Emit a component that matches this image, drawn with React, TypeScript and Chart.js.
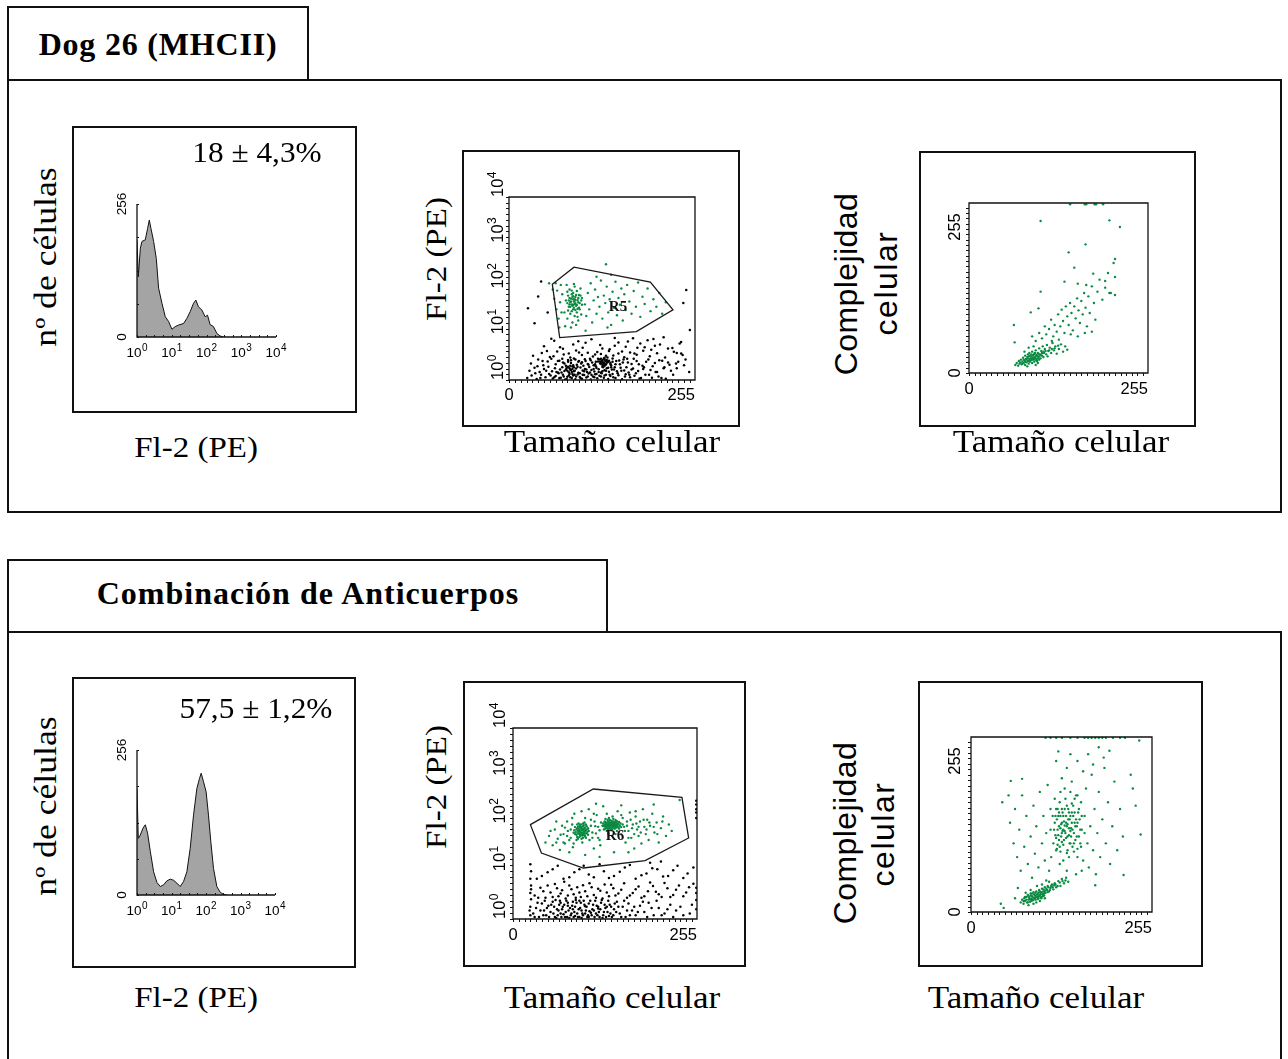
import React, { useEffect, useRef } from 'react';
import { Chart, registerables } from 'chart.js';

Chart.register(...registerables);

// ---------------- data ----------------
// Histogram "Dog 26 (MHCII)": Fl-2 (PE) value vs. nº de células
const histDogFl2 = [1, 1.09, 1.25, 1.39, 1.73, 2.02, 2.26, 2.52, 3.01, 3.59, 4.19, 5.22, 6.51, 8.11, 10.1, 12.6, 15.7, 21.9, 27.3, 34.0, 42.4, 49.4, 58.9, 73.5, 91.6, 107, 127, 159, 198, 247, 307];
const histDogCount = [187, 116, 171, 184, 187, 209, 225, 209, 184, 151, 94, 65, 39, 30, 15, 20, 23, 26, 36, 49, 65, 71, 58, 52, 39, 42, 24, 20, 7, 2, 0];

// Histogram "Combinación de Anticuerpos"
const histComboFl2 = [1, 1.09, 1.25, 1.49, 1.74, 2.03, 2.43, 3.03, 3.79, 4.73, 5.9, 7.37, 9.2, 11.5, 14.3, 17.9, 22.4, 27.9, 34.8, 43.5, 54.3, 64.9, 72.5, 84.7, 101, 118, 138, 165, 206, 257, 321, 400];
const histComboCount = [188, 100, 106, 118, 124, 109, 77, 41, 22, 15, 18, 25, 28, 26, 21, 15, 24, 41, 82, 141, 188, 206, 215, 200, 182, 141, 94, 47, 15, 5, 1, 0];

// Scatter Dog 26: Tamaño celular (0-255) vs Fl-2 (log)
const dogGateBlack = [
  [25,1.1],[31,1.25],[38,1.05],[44,1.3],[50,1.15],[55,1.35],[60,1.08],[64,1.22],[68,1.4],[71,1.12],[74,1.3],[77,1.02],[80,1.18],[83,1.36],[86,1.1],[88,1.26],[91,1.04],[94,1.32],[97,1.16],[100,1.06],[103,1.28],[106,1.14],[109,1.38],[112,1.02],[115,1.2],[118,1.34],[121,1.09],[124,1.24],[127,1.4],[130,1.12],[133,1.3],[136,1.05],[139,1.22],[142,1.36],[146,1.1],[150,1.27],[155,1.04],[160,1.33],[166,1.15],[172,1.24],[179,1.08],[187,1.3],[196,1.12],[205,1.2],[215,1.06],
  [28,1.6],[35,1.85],[42,1.5],[48,1.75],[54,1.95],[59,1.55],[63,1.8],[67,1.45],[70,1.7],[73,1.9],[76,1.58],[79,1.82],[82,1.48],[84,1.68],[87,1.98],[90,1.6],[92,1.78],[95,1.44],[98,1.88],[101,1.62],[104,1.74],[107,1.5],[110,1.92],[113,1.66],[117,1.54],[120,1.84],[123,1.72],[126,1.46],[128,1.96],[131,1.64],[134,1.8],[137,1.52],[140,1.9],[144,1.7],[148,1.56],[153,1.86],[158,1.62],[164,1.45],[170,1.78],[177,1.58],[185,1.9],[194,1.66],[203,1.5],[212,1.8],[222,1.6],
  [30,2.3],[40,2.8],[47,2.1],[53,2.55],[58,2.9],[64,2.2],[69,2.65],[74,2.4],[78,2.05],[81,2.75],[85,2.35],[89,2.95],[93,2.15],[96,2.6],[100,2.45],[104,2.85],[108,2.25],[112,2.7],[116,2.1],[119,2.5],[122,2.9],[125,2.3],[127,2.62],[129,2.42],[131,2.8],[133,2.18],[136,2.55],[139,2.38],[142,2.95],[146,2.2],[151,2.68],[156,2.4],[162,2.9],[168,2.25],[175,2.6],[183,2.05],[191,2.8],[200,2.35],[210,2.65],[220,2.15],[232,2.5],
  [33,3.4],[45,3.9],[56,3.2],[66,4.2],[75,3.6],[84,3.1],[92,4.4],[100,3.5],[108,3.95],[115,3.25],[121,4.1],[126,3.7],[131,3.05],[137,4.3],[143,3.45],[150,3.8],[158,3.15],[166,4.0],[175,3.55],[184,4.35],[193,3.3],[203,3.85],[214,3.1],[226,4.15],[238,3.5],
  [48,5.5],[62,7.2],[74,4.8],[88,6.0],[101,5.1],[113,7.8],[125,5.8],[138,4.7],[150,6.6],[160,5.3],[170,8.2],[180,6.3],[190,7.4],[200,5.6],[212,8.6],[224,5.0],[236,6.8],
  [125,2.5],[128,2.7],[130,2.35],[132,2.6],[127,2.2],[134,2.75],[129,1.9],[131,2.05],[126,2.9],[135,2.45],[83,1.8],[85,1.65],[81,1.95],[87,1.75],[84,2.05],[80,1.6],[86,1.5],[89,1.9],[118,2.2],[140,2.1],
  [62,1.15],[65,1.5],[67,2.6],[69,1.1],[72,1.45],[73,2.9],[75,1.2],[76,2.3],[78,1.7],[79,1.05],[81,2.5],[82,1.25],[84,1.15],[85,2.7],[87,1.35],[88,2.1],[89,1.55],[90,1.3],[91,2.8],[92,1.2],[94,1.95],[95,2.5],[97,1.4],[98,1.1],[99,2.3],[101,1.3],[102,2.05],[103,1.55],[105,2.6],[106,1.7],[108,1.2],[109,2.15],[111,1.45],[111,2.9],[113,1.3],[114,2.4],[116,1.75],[117,1.15],[119,2.0],[120,1.35],[122,2.55],[123,1.5],[124,2.8],[126,1.2],[127,2.45],[128,1.55],[129,2.1],[130,2.95],[131,1.25],[132,2.2],[133,1.6],[134,2.4],[135,3.1],[136,1.85],[137,2.65],[138,1.3],[139,2.25],[141,1.7],[142,2.5],[143,1.15],[145,1.9],[147,2.6],[149,1.4],[152,2.2],[154,1.6],[157,2.8],[159,1.2],[161,1.9],[163,2.4],[165,1.3],[168,1.7],[171,2.9],[174,1.4],[178,2.2],[181,1.1],[184,1.75],[188,2.5],[192,1.3],[197,2.0],[201,1.5],[206,2.7],[209,1.1],[213,1.9],[218,2.4],[225,1.3],[230,1.8],[240,2.1],[36,1.4],[39,2.0],[43,1.1],[46,2.6],[51,1.6],[57,1.25],[61,3.3],
  [52,4.3],[70,5.2],[82,3.8],[96,4.0],[105,6.5],[118,3.6],[128,4.9],[133,3.4],[145,5.6],[155,4.2],[163,6.9],[172,3.8],[186,5.2],[195,4.6],[207,6.0],[218,4.9],[230,3.9],[242,2.8],[58,8.0],[95,7.0],[145,8.3],[176,5.1],[198,7.9],
  [44,142],[40,67],[26,37],[35,17.4],[53,30],[243,93],[239,48],[248,12.4],[234,6.3],[236,3.8],[229,2.3],[247,1.5]
];
const dogGateGreen = [
  [76,30],[78,55],[80,22],[81,70],[82,40],[83,95],[84,28],[85,60],[86,45],[87,18],[88,80],[88,35],[89,52],[90,110],[90,25],[91,65],[92,42],[93,30],[93,88],[94,56],[95,20],[96,72],[96,38],[97,48],[98,100],[99,27],[100,62],[100,44],[79,120],[77,15],[85,14],[89,125],[92,16],[86,75],[84,50],[91,34],[83,62],[87,42],[95,50],[81,33],[80,85],[94,24],[98,70],[88,58],[90,46],
  [84,40],[85,52],[86,32],[87,65],[88,44],[89,38],[90,58],[91,48],[92,72],[93,44],[94,36],[95,62],[86,90],[82,55],[97,35],[99,55],[83,45],[80,48],[91,55],[88,68],
  [62,60],[65,35],[66,90],[68,22],[70,50],[71,120],[72,30],[73,75],[69,14],[64,130],
  [104,45],[106,25],[108,80],[110,35],[112,130],[114,18],[116,55],[118,95],[120,28],[122,65],[124,40],[126,150],[128,22],[130,70],[132,48],[134,110],[136,30],[138,58],[140,16],[142,85],[144,38],[146,140],[148,26],[150,62],[152,44],[154,100],[156,20],[158,75],[160,34],[162,120],[165,52],[168,28],[171,88],[174,40],[177,135],[180,24],[183,66],[186,46],[190,100],[194,32],[198,58],[202,40],[206,80],[210,28],[215,50],[120,180],[140,200],[105,12],[135,14],
  [133,340],[55,130],[60,95]
];
const dogGateX = [59.4, 89.1, 193.8, 224.8, 174.6, 69.5];
const dogGateY = [124, 293, 138, 34.1, 11.4, 8.45];
const dogGateLabel = 'R5';
const dogGateLabelAt = [149.4, 39];

// Scatter Dog 26: Tamaño celular vs Complejidad celular
const dogComplexGreen = [
  [66,12],[68,15],[70,11],[71,18],[72,14],[74,20],[75,13],[76,17],[77,23],[78,15],[79,19],[80,26],[80,12],[81,21],[82,16],[83,24],[84,18],[84,28],[85,14],[86,21],[86,30],[87,17],[88,25],[88,19],[89,22],[90,32],[90,15],[91,26],[92,20],[93,29],[93,17],[94,23],[95,34],[96,21],[96,27],[97,18],[98,30],[99,24],[100,37],[100,20],[101,28],[102,22],[103,33],[104,26],[105,40],[106,24],[107,30],[108,36],[110,28],[111,42],[112,25],[113,33],[115,38],[117,30],[119,45],[121,34],[123,40],[125,29],[128,36],[131,43],[134,32],[137,40],[140,35],[85,38],[79,32],[92,40],[83,10],[95,12],[98,15],
  [82,20],[84,22],[85,25],[86,18],[87,26],[88,22],[89,28],[90,20],[91,23],[92,27],[93,21],[94,30],[95,25],[96,19],[97,26],[98,22],[99,29],[100,25],[102,27],[104,30],[78,20],[80,17],[76,14],[73,16],[106,32],[109,33],[114,34],[118,36],[122,37],[127,41],
  [90,55],[95,48],[100,60],[104,52],[108,70],[110,58],[114,66],[117,80],[120,55],[122,72],[125,62],[127,88],[130,70],[132,95],[134,78],[136,60],[138,100],[140,85],[142,72],[144,105],[146,90],[148,64],[150,100],[152,82],[154,112],[156,94],[158,75],[160,108],[162,88],[164,120],[166,98],[168,70],[170,115],[172,90],[175,130],[178,105],[180,80],[183,122],[186,140],[190,110],[194,128],[198,150],[202,120],[206,165],[145,58],[155,55],[165,60],[175,62],[128,50],[118,48],
  [144,253],[165,253],[167,253],[179,253],[181,253],[191,253],[102,228],[200,229],[215,219],[166,193],[142,181],[150,158],[177,149],[208,171],[208,144],[194,138],[155,134],[167,132],[102,122],[136,137],[208,117],[200,120],[64,72],[65,46],[88,91],[99,97]
];

// Scatter Combinación: Tamaño celular vs Fl-2 (log)
const comboGateBlack = [
  [24,1.2],[24,1.8],[25,2.6],[24,3.5],[25,5],[24,7],[25,10],[24,14],[23,1.5],[25,4.2],
  [28,1.3],[32,1.7],[36,1.1],[40,2.1],[43,1.5],[46,1.2],[49,1.9],[52,1.4],[55,2.3],[58,1.1],[61,1.6],[64,2.0],[66,1.3],[69,1.8],[72,1.1],[74,2.4],[77,1.5],[80,1.2],[82,1.9],[85,1.4],[88,2.2],[90,1.1],[93,1.7],[96,1.3],[99,2.0],[101,1.5],[104,1.2],[107,2.4],[110,1.6],[113,1.1],[116,1.9],[119,1.4],[122,2.2],[125,1.2],[128,1.7],[131,1.4],[134,2.0],[137,1.1],[140,1.6],[144,2.3],[148,1.3],[152,1.8],[156,1.1],[160,2.1],[165,1.5],[170,1.2],[176,1.9],[182,1.4],[188,2.2],[195,1.2],[202,1.7],[210,1.3],[218,2.0],[226,1.5],[236,1.2],
  [60,1.05],[70,1.25],[78,1.05],[86,1.15],[95,1.05],[105,1.1],[115,1.3],[124,1.05],[133,1.15],[92,2.4],[83,1.6],[76,1.9],[66,2.2],[108,1.35],[118,1.65],[100,1.85],
  [30,1.1],[34,2.2],[38,1.5],[42,1.2],[44,2.4],[47,1.7],[50,1.1],[53,2.0],[56,1.3],[57,1.8],[59,2.5],[62,1.2],[63,1.5],[65,2.4],[67,1.1],[68,1.6],[71,2.0],[73,1.4],[75,1.1],[76,2.2],[79,1.7],[81,1.3],[83,2.3],[84,1.1],[86,1.8],[87,2.5],[89,1.3],[91,1.6],[92,1.1],[94,2.2],[95,1.5],[97,1.2],[98,2.4],[100,1.3],[102,1.8],[103,1.1],[105,2.1],[106,1.45],[109,1.2],[111,2.0],[112,1.5],[114,2.4],[117,1.2],[118,1.8],[120,1.1],[121,1.6],[123,2.5],[126,1.4],[127,2.0],[129,1.1],[130,1.8],[132,2.4],[135,1.3],[136,1.8],[139,1.2],[141,2.1],[143,1.4],[146,1.8],[150,1.1],[154,2.4],[158,1.5],[162,1.2],[168,1.8],[173,1.4],[180,2.3],[186,1.1],[192,1.7],[199,2.4],[206,1.2],[214,1.6],[222,1.1],[232,1.8],
  [30,3.1],[38,4.5],[45,2.8],[52,3.6],[58,5.4],[63,3.0],[68,4.0],[73,2.7],[78,5.0],[84,3.3],[89,4.6],[94,2.9],[100,3.8],[106,5.6],[112,3.2],[118,4.3],[124,2.7],[130,3.6],[136,5.2],[142,3.1],[150,4.1],[158,2.8],[166,3.5],[174,4.8],[182,3.0],[190,5.8],[198,3.7],[206,2.9],[214,4.4],[222,3.2],[230,5.0],[240,3.6],
  [35,2.8],[42,3.8],[48,5.0],[55,2.9],[61,4.4],[66,3.4],[71,6.0],[76,3.1],[81,4.2],[87,2.8],[92,3.6],[97,5.1],[103,3.0],[109,4.6],[115,2.8],[121,3.9],[127,5.3],[133,3.0],[139,4.4],[146,3.4],[154,5.6],[162,3.1],[170,4.2],[178,2.8],[187,3.8],[194,4.9],[202,3.3],[210,5.7],[218,2.9],[226,4.1],[236,3.0],[244,4.6],
  [40,8],[55,11],[70,7],[85,9.5],[98,13],[112,7.5],[126,10],[140,8],[155,12],[170,7],[185,9],[200,11],[215,8],[228,13],[242,9],[190,15],[205,16],
  [33,7],[48,9.5],[62,13],[78,7.5],[92,11],[105,8.5],[120,14],[133,7.2],[148,9.8],[162,13.5],[178,8.2],[193,11.5],[208,7.8],[222,10.5],[236,7.2],[250,12],
  [254,130],[254,170],[254,200],[254,250],[254,300],[254,2.5],[254,3.5],[254,4.5],[254,1.6],[250,5.5],[245,1.3],[248,2.0]
];
const comboGateGreen = [
  [86,60],[88,75],[89,52],[90,85],[91,64],[92,70],[93,55],[93,92],[94,78],[95,62],[95,48],[96,72],[97,58],[97,88],[98,66],[99,80],[100,54],[100,70],[101,95],[102,62],[88,45],[91,100],[96,40],[99,105],[85,72],[103,76],[94,66],[92,60],[98,74],[90,70],
  [87,66],[88,58],[89,80],[90,62],[90,48],[91,76],[92,88],[92,52],[93,68],[93,82],[94,58],[94,96],[95,74],[95,84],[96,56],[96,64],[97,78],[97,50],[98,60],[98,92],[99,68],[99,56],[100,82],[100,62],[101,72],[101,50],[102,88],[103,66],[104,58],[104,80],[86,84],[84,64],[105,70],[89,95],[97,100],
  [124,90],[126,75],[127,110],[128,85],[129,100],[130,70],[131,120],[132,92],[133,80],[134,105],[135,88],[136,72],[136,115],[137,98],[138,84],[139,125],[140,94],[141,78],[142,108],[143,90],[144,70],[145,100],[146,82],[132,62],[138,140],[128,125],[142,60],[134,96],[130,88],[137,110],
  [125,100],[126,88],[127,95],[128,78],[128,108],[129,92],[130,104],[130,80],[131,96],[131,86],[132,110],[132,76],[133,100],[133,90],[134,84],[134,118],[135,96],[135,78],[136,102],[136,86],[137,92],[137,76],[138,104],[138,96],[139,88],[139,110],[140,80],[140,104],[141,98],[141,88],[142,94],[142,118],[143,82],[143,104],[144,92],[144,112],[145,86],[146,96],[147,78],[147,108],[148,90],[149,100],[150,84],[127,88],[133,130],
  [45,40],[50,55],[55,35],[58,75],[62,48],[65,28],[68,90],[70,60],[72,38],[75,110],[76,70],[78,25],[80,50],[82,130],[83,32],[106,45],[108,120],[110,65],[112,30],[114,88],[116,150],[118,50],[120,72],[121,35],[150,60],[152,130],[154,85],[156,40],[158,110],[160,70],[162,170],[164,50],[166,95],[168,30],[170,140],[172,75],[174,55],[176,110],[178,38],[180,200],[182,85],[184,60],[186,120],[188,45],[190,90],[193,160],[196,65],[199,105],[202,40],[205,80],[208,140],[212,55],[216,95],[220,70],[105,200],[125,230],[145,180],[120,20],[140,25],[100,22],[160,25],[60,110],[85,160],[95,180],[150,240],[195,250],[115,260],
  [52,70],[60,40],[66,58],[72,82],[78,45],[82,95],[84,38],[108,90],[110,50],[113,110],[115,62],[118,85],[120,45],[122,105],[152,95],[155,70],[158,90],[160,50],[163,120],[165,80],[168,60],[171,100],[174,85],[177,65],[181,120],[185,75],[189,105],[195,85],[200,60],[207,110],[112,160],[130,160],[150,150],[170,180],[100,130],[80,75],[75,55],[70,40],
  [231,310]
];
const comboGateX = [24.1, 111.3, 234.1, 243.4, 183.1, 97.4, 39.4];
const comboGateY = [94.6, 528, 353, 49.7, 16.7, 11.7, 24.1];
const comboGateLabel = 'R6';
const comboGateLabelAt = [141.4, 55.6];

// Scatter Combinación: Tamaño celular vs Complejidad celular
const comboComplexGreen = [
  [70,14],[72,18],[74,12],[75,20],[76,16],[78,22],[79,14],[80,25],[81,18],[82,21],[83,15],[84,27],[85,19],[86,23],[87,17],[88,29],[89,21],[90,24],[91,18],[92,30],[93,22],[94,26],[95,20],[96,32],[97,24],[98,28],[99,22],[100,34],[101,26],[102,30],[103,24],[104,36],[105,28],[107,32],[108,38],[110,30],[112,35],[114,40],[116,33],[118,42],[120,36],[123,45],[126,38],[128,48],[131,42],[134,50],[137,44],[77,28],[84,32],[92,14],[88,12],[97,16],[104,20],[81,10],[110,44],[62,20],[66,35],[93,38],[100,40],[106,46],
  [74,16],[76,22],[78,18],[80,14],[81,23],[83,19],[84,24],[85,16],[86,27],[87,21],[88,18],[89,26],[90,20],[91,28],[92,22],[93,25],[94,19],[95,28],[96,23],[97,30],[98,26],[99,20],[100,29],[101,23],[102,33],[103,27],[104,31],[106,34],[108,29],[109,36],[111,32],[113,38],[115,36],[117,39],[119,40],[122,38],[125,43],[129,45],[133,46],
  [116,100],[118,130],[119,112],[120,150],[121,92],[122,120],[123,140],[124,105],[125,160],[126,88],[127,128],[128,115],[129,145],[130,98],[131,132],[132,118],[133,165],[134,108],[135,125],[136,90],[137,150],[138,112],[139,135],[140,100],[141,122],[142,158],[143,95],[144,140],[145,115],[146,130],[147,105],[148,170],[149,125],[150,92],[151,145],[152,110],[153,135],[154,100],[155,160],[156,120],[124,125],[126,122],[128,130],[130,120],[132,126],[134,140],[136,128],[138,122],[140,118],[142,130],[122,98],[128,102],[135,86],[145,88],[150,170],[118,165],
  [117,120],[119,140],[120,108],[121,135],[122,150],[123,112],[124,145],[125,95],[126,140],[127,110],[128,150],[129,118],[130,140],[131,105],[132,150],[133,115],[134,130],[135,155],[136,110],[137,135],[138,145],[139,100],[140,140],[141,110],[142,145],[143,120],[144,155],[145,100],[146,145],[147,125],[148,135],[149,110],[150,130],[152,150],[154,120],[156,140],[126,175],[132,180],[140,175],[146,165],[120,90],[138,80],[130,75],[150,80],[155,95],[115,140],[112,120],[160,115],
  [55,130],[60,100],[62,150],[65,80],[68,120],[70,60],[72,170],[75,95],[78,140],[80,70],[84,110],[86,50],[88,155],[90,85],[92,125],[95,65],[97,175],[100,100],[102,140],[104,75],[106,115],[108,185],[110,60],[112,150],[113,80],[158,75],[160,140],[162,180],[164,100],[166,65],[168,125],[170,200],[172,90],[174,150],[176,55],[178,115],[180,175],[182,80],[185,135],[188,210],[190,100],[193,160],[196,70],[199,125],[202,190],[206,90],[210,150],[214,110],[128,195],[135,210],[142,190],[150,220],[158,205],[165,230],[172,215],[180,240],[187,225],[195,235],[120,220],[140,230],[156,60],[148,55],[125,70],[135,60],
  [105,254],[112,254],[120,254],[128,254],[140,254],[150,254],[160,254],[165,254],[170,254],[175,254],[180,254],[185,254],[190,254],[200,254],[210,254],[217,254],
  [44,160],[53,170],[56,191],[72,194],[123,234],[215,54],[175,39],[239,113],[232,155],[237,250],[225,200],[228,180],[42,12],[46,6]
];

// Tick labels
const decadeValues = [1, 10, 100, 1000, 10000];
const decadeExponents = ['0', '1', '2', '3', '4'];
const histYTickValues = [0, 256];
const histYTickLabels = ['0', '256'];
const linearTickValues = [0, 255];
const linearTickLabels = ['0', '255'];

// ---------------- axis tick positions ----------------
const logEvenTicks = (perDecade: number) => {
  const t: number[] = [];
  for (let k = 0; k <= 4 * perDecade; k++) t.push(Math.pow(10, k / perDecade));
  return t;
};
const linTicks = (max: number, step: number) => {
  const t: number[] = [];
  for (let v = 0; v <= max; v += step) t.push(v);
  return t;
};

const SANS = '"Liberation Sans", Arial, sans-serif';
const SERIF = '"Liberation Serif", "Times New Roman", serif';
const GREEN = '#0b8a42';

function drawLabel(ctx: any, l: any, x: number, y: number, rot: number, size: number) {
  ctx.save();
  ctx.translate(x, y);
  ctx.rotate(rot);
  const big = `${size}px ${SANS}`;
  const small = `${Math.round(size * 0.72)}px ${SANS}`;
  ctx.font = big;
  const wb = ctx.measureText(l.text).width;
  ctx.font = small;
  const ws = l.sup ? ctx.measureText(l.sup).width + 0.5 : 0;
  const w = wb + ws;
  const x0 = l.align === 'left' ? 0 : l.align === 'right' ? -w : -w / 2;
  ctx.textAlign = 'left';
  ctx.textBaseline = 'middle';
  ctx.fillStyle = '#000';
  ctx.font = big;
  ctx.fillText(l.text, x0, 0);
  if (l.sup) {
    ctx.font = small;
    ctx.fillText(l.sup, x0 + wb + 0.5, -size * 0.33);
  }
  ctx.restore();
}

const flowAxesPlugin = {
  id: 'flowAxes',
  afterDatasetsDraw(chart: any, _args: any, o: any) {
    const { ctx, chartArea: a } = chart;
    const sx = chart.scales.x;
    const sy = chart.scales.y;
    ctx.save();
    if (o.gate) {
      ctx.strokeStyle = '#1a1a1a';
      ctx.lineWidth = 1.3;
      ctx.beginPath();
      o.gate.xs.forEach((gx: number, i: number) => {
        const px = sx.getPixelForValue(gx);
        const py = sy.getPixelForValue(o.gate.ys[i]);
        if (i === 0) ctx.moveTo(px, py);
        else ctx.lineTo(px, py);
      });
      ctx.closePath();
      ctx.stroke();
      ctx.fillStyle = '#111';
      ctx.font = `bold 15px ${SERIF}`;
      ctx.textAlign = 'center';
      ctx.textBaseline = 'middle';
      ctx.fillText(o.gate.label, sx.getPixelForValue(o.gate.at[0]), sy.getPixelForValue(o.gate.at[1]));
    }
    ctx.strokeStyle = '#111';
    ctx.lineWidth = 1.3;
    ctx.beginPath();
    if (o.frame) {
      ctx.rect(a.left, a.top, a.right - a.left, a.bottom - a.top);
    } else {
      ctx.moveTo(a.left, a.top);
      ctx.lineTo(a.left, a.bottom);
      ctx.lineTo(a.right, a.bottom);
    }
    ctx.stroke();
    ctx.lineWidth = 1;
    ctx.beginPath();
    const d = o.tickOut ? 1 : -1;
    for (const v of o.xTicks) {
      const px = Math.round(sx.getPixelForValue(v)) + 0.5;
      ctx.moveTo(px, a.bottom);
      ctx.lineTo(px, a.bottom + d * o.tickLen);
    }
    for (const v of o.yTicks) {
      const py = Math.round(sy.getPixelForValue(v)) + 0.5;
      ctx.moveTo(a.left, py);
      ctx.lineTo(a.left - d * o.tickLen, py);
    }
    ctx.stroke();
    for (const l of o.xLabels) drawLabel(ctx, l, sx.getPixelForValue(l.v), a.bottom + o.xLabelOffset, 0, o.fontSize);
    for (const l of o.yLabels) drawLabel(ctx, l, a.left - o.yLabelOffset, sy.getPixelForValue(l.v) + (l.dy || 0), -Math.PI / 2, o.fontSize);
    ctx.restore();
  },
};

type Rect = { l: number; t: number; r: number; b: number };

function baseOptions(box: Rect, plot: Rect, flow: any, scales: any) {
  return {
    responsive: false,
    animation: false,
    events: [],
    layout: { padding: { left: plot.l - box.l, top: plot.t - box.t, right: box.r - plot.r, bottom: box.b - plot.b } },
    plugins: { legend: { display: false }, tooltip: { enabled: false }, title: { display: false }, flowAxes: flow },
    scales,
  };
}

function histConfig(box: Rect, plot: Rect, xs: number[], ys: number[]) {
  return {
    type: 'line',
    data: {
      datasets: [{
        data: xs.map((x, i) => ({ x, y: ys[i] })),
        fill: 'origin',
        backgroundColor: '#a4a4a4',
        borderColor: '#111',
        borderWidth: 1,
        pointRadius: 0,
        tension: 0,
      }],
    },
    options: baseOptions(box, plot, {
      frame: false,
      tickOut: false,
      tickLen: 2,
      xTicks: logEvenTicks(4),
      yTicks: linTicks(256, 64),
      xLabels: decadeValues.map((v, i) => ({ v, text: '10', sup: decadeExponents[i], align: 'center' })),
      yLabels: histYTickValues.map((v, i) => ({ v, text: histYTickLabels[i], align: 'center' })),
      xLabelOffset: 16,
      yLabelOffset: 15,
      fontSize: 13.5,
    }, {
      x: { type: 'logarithmic', min: 1, max: 10000, display: false },
      y: { type: 'linear', min: 0, max: 256, display: false },
    }),
    plugins: [flowAxesPlugin],
  };
}

function pts(arr: number[][]) {
  return arr.map(([x, y]) => ({ x, y }));
}

function gateConfig(box: Rect, plot: Rect, black: number[][], green: number[][], gate: any, xOff: number, yOff: number) {
  return {
    type: 'scatter',
    data: {
      datasets: [
        { data: pts(black), pointRadius: 1.25, backgroundColor: '#000', borderWidth: 0, pointHoverRadius: 0 },
        { data: pts(green), pointRadius: 1.2, backgroundColor: GREEN, borderWidth: 0, pointHoverRadius: 0 },
      ],
    },
    options: baseOptions(box, plot, {
      frame: true,
      tickOut: true,
      tickLen: 3,
      xTicks: linTicks(255, 8),
      yTicks: logEvenTicks(8),
      xLabels: linearTickValues.map((v, i) => ({ v, text: linearTickLabels[i], align: i === 0 ? 'center' : 'right' })),
      yLabels: decadeValues.map((v, i) => ({ v, text: '10', sup: decadeExponents[i], align: 'left' })),
      xLabelOffset: xOff,
      yLabelOffset: yOff,
      fontSize: 16.5,
      gate,
    }, {
      x: { type: 'linear', min: 0, max: 255, display: false },
      y: { type: 'logarithmic', min: 1, max: 10000, display: false },
    }),
    plugins: [flowAxesPlugin],
  };
}

function complexConfig(box: Rect, plot: Rect, green: number[][], xOff: number, yOff: number, topShift: number) {
  return {
    type: 'scatter',
    data: {
      datasets: [
        { data: pts(green), pointRadius: 1.2, backgroundColor: GREEN, borderWidth: 0, pointHoverRadius: 0 },
      ],
    },
    options: baseOptions(box, plot, {
      frame: true,
      tickOut: true,
      tickLen: 3,
      xTicks: linTicks(255, 8),
      yTicks: linTicks(255, 8),
      xLabels: linearTickValues.map((v, i) => ({ v, text: linearTickLabels[i], align: i === 0 ? 'center' : 'right' })),
      yLabels: linearTickValues.map((v, i) => ({ v, text: linearTickLabels[i], align: 'center', dy: i === 0 ? 0 : topShift })),
      xLabelOffset: xOff,
      yLabelOffset: yOff,
      fontSize: 16.5,
    }, {
      x: { type: 'linear', min: 0, max: 255, display: false },
      y: { type: 'linear', min: 0, max: 255, display: false },
    }),
    plugins: [flowAxesPlugin],
  };
}

function Panel({ box, config }: { box: Rect; config: any }) {
  const ref = useRef<HTMLCanvasElement | null>(null);
  useEffect(() => {
    if (!ref.current) return;
    const chart = new Chart(ref.current, config);
    return () => chart.destroy();
  }, []);
  const w = box.r - box.l;
  const h = box.b - box.t;
  return (
    <>
      <div style={{ position: 'absolute', left: box.l, top: box.t, width: w, height: h, border: '2px solid #111', boxSizing: 'border-box' }} />
      <canvas ref={ref} width={w} height={h} style={{ position: 'absolute', left: box.l, top: box.t, width: w, height: h }} />
    </>
  );
}

function Frame({ r }: { r: Rect }) {
  return <div style={{ position: 'absolute', left: r.l, top: r.t, width: r.r - r.l, height: r.b - r.t, border: '2px solid #111', boxSizing: 'border-box' }} />;
}

function Txt({ x, y, children, size = 30, bold = false, rot = false, family = SERIF, ls = 0, sx = 1 }: any) {
  return (
    <div style={{
      position: 'absolute', left: x, top: y,
      transform: `translate(-50%, -50%)${rot ? ' rotate(-90deg)' : ''}${sx !== 1 ? ` scaleX(${sx})` : ''}`,
      fontFamily: family, fontSize: size, fontWeight: bold ? 700 : 400,
      whiteSpace: 'nowrap', lineHeight: 1, letterSpacing: ls, color: '#000',
    }}>{children}</div>
  );
}

// panel geometry
const h1Box = { l: 72, t: 126, r: 357, b: 413 };
const h1Plot = { l: 137, t: 204, r: 276, b: 337 };
const g1Box = { l: 462, t: 150, r: 740, b: 427 };
const g1Plot = { l: 509, t: 197, r: 695, b: 380 };
const c1Box = { l: 919, t: 151, r: 1196, b: 427 };
const c1Plot = { l: 969, t: 203, r: 1148, b: 373 };
const h2Box = { l: 72, t: 677, r: 356, b: 968 };
const h2Plot = { l: 137, t: 750, r: 275, b: 895 };
const g2Box = { l: 463, t: 681, r: 746, b: 967 };
const g2Plot = { l: 513, t: 728, r: 697, b: 919 };
const c2Box = { l: 918, t: 681, r: 1203, b: 967 };
const c2Plot = { l: 971, t: 737, r: 1152, b: 912 };

export default function App() {
  return (
    <div style={{ position: 'absolute', left: 0, top: 0, width: 1288, height: 1059, overflow: 'hidden', background: '#fff' }}>
      {/* Section 1 */}
      <Frame r={{ l: 7, t: 79, r: 1282, b: 513 }} />
      <Frame r={{ l: 7, t: 6, r: 309, b: 81 }} />
      <Txt x={158} y={44} size={32} bold ls={0.8}>Dog 26 (MHCII)</Txt>

      <Panel box={h1Box} config={histConfig(h1Box, h1Plot, histDogFl2, histDogCount)} />
      <Panel box={g1Box} config={gateConfig(g1Box, g1Plot, dogGateBlack, dogGateGreen, { xs: dogGateX, ys: dogGateY, label: dogGateLabel, at: dogGateLabelAt }, 15, 11)} />
      <Panel box={c1Box} config={complexConfig(c1Box, c1Plot, dogComplexGreen, 16, 14, 24)} />

      <Txt x={257} y={152} size={29} sx={1.08}>18 ± 4,3%</Txt>
      <Txt x={45} y={257} size={31} rot sx={1.15}>nº de células</Txt>
      <Txt x={196} y={447} size={30} sx={1.1}>Fl-2 (PE)</Txt>
      <Txt x={436} y={259} size={30} rot sx={1.1}>Fl-2 (PE)</Txt>
      <Txt x={612} y={441} size={31} sx={1.13}>Tamaño celular</Txt>
      <Txt x={846} y={284} size={32} rot family={SANS} ls={0.4}>Complejidad</Txt>
      <Txt x={886} y={283} size={32} rot family={SANS} ls={1.5}>celular</Txt>
      <Txt x={1061} y={441} size={31} sx={1.13}>Tamaño celular</Txt>

      {/* Section 2 */}
      <Frame r={{ l: 7, t: 631, r: 1282, b: 1080 }} />
      <Frame r={{ l: 7, t: 559, r: 608, b: 633 }} />
      <Txt x={308} y={593} size={32} bold ls={1}>Combinación de Anticuerpos</Txt>

      <Panel box={h2Box} config={histConfig(h2Box, h2Plot, histComboFl2, histComboCount)} />
      <Panel box={g2Box} config={gateConfig(g2Box, g2Plot, comboGateBlack, comboGateGreen, { xs: comboGateX, ys: comboGateY, label: comboGateLabel, at: comboGateLabelAt }, 16, 13)} />
      <Panel box={c2Box} config={complexConfig(c2Box, c2Plot, comboComplexGreen, 16, 16, 24)} />

      <Txt x={256} y={708} size={29} sx={1.08}>57,5 ± 1,2%</Txt>
      <Txt x={45} y={806} size={31} rot sx={1.15}>nº de células</Txt>
      <Txt x={196} y={997} size={30} sx={1.1}>Fl-2 (PE)</Txt>
      <Txt x={436} y={787} size={30} rot sx={1.1}>Fl-2 (PE)</Txt>
      <Txt x={612} y={997} size={31} sx={1.13}>Tamaño celular</Txt>
      <Txt x={845} y={833} size={32} rot family={SANS} ls={0.4}>Complejidad</Txt>
      <Txt x={883} y={834} size={32} rot family={SANS} ls={1.5}>celular</Txt>
      <Txt x={1036} y={997} size={31} sx={1.13}>Tamaño celular</Txt>
    </div>
  );
}
